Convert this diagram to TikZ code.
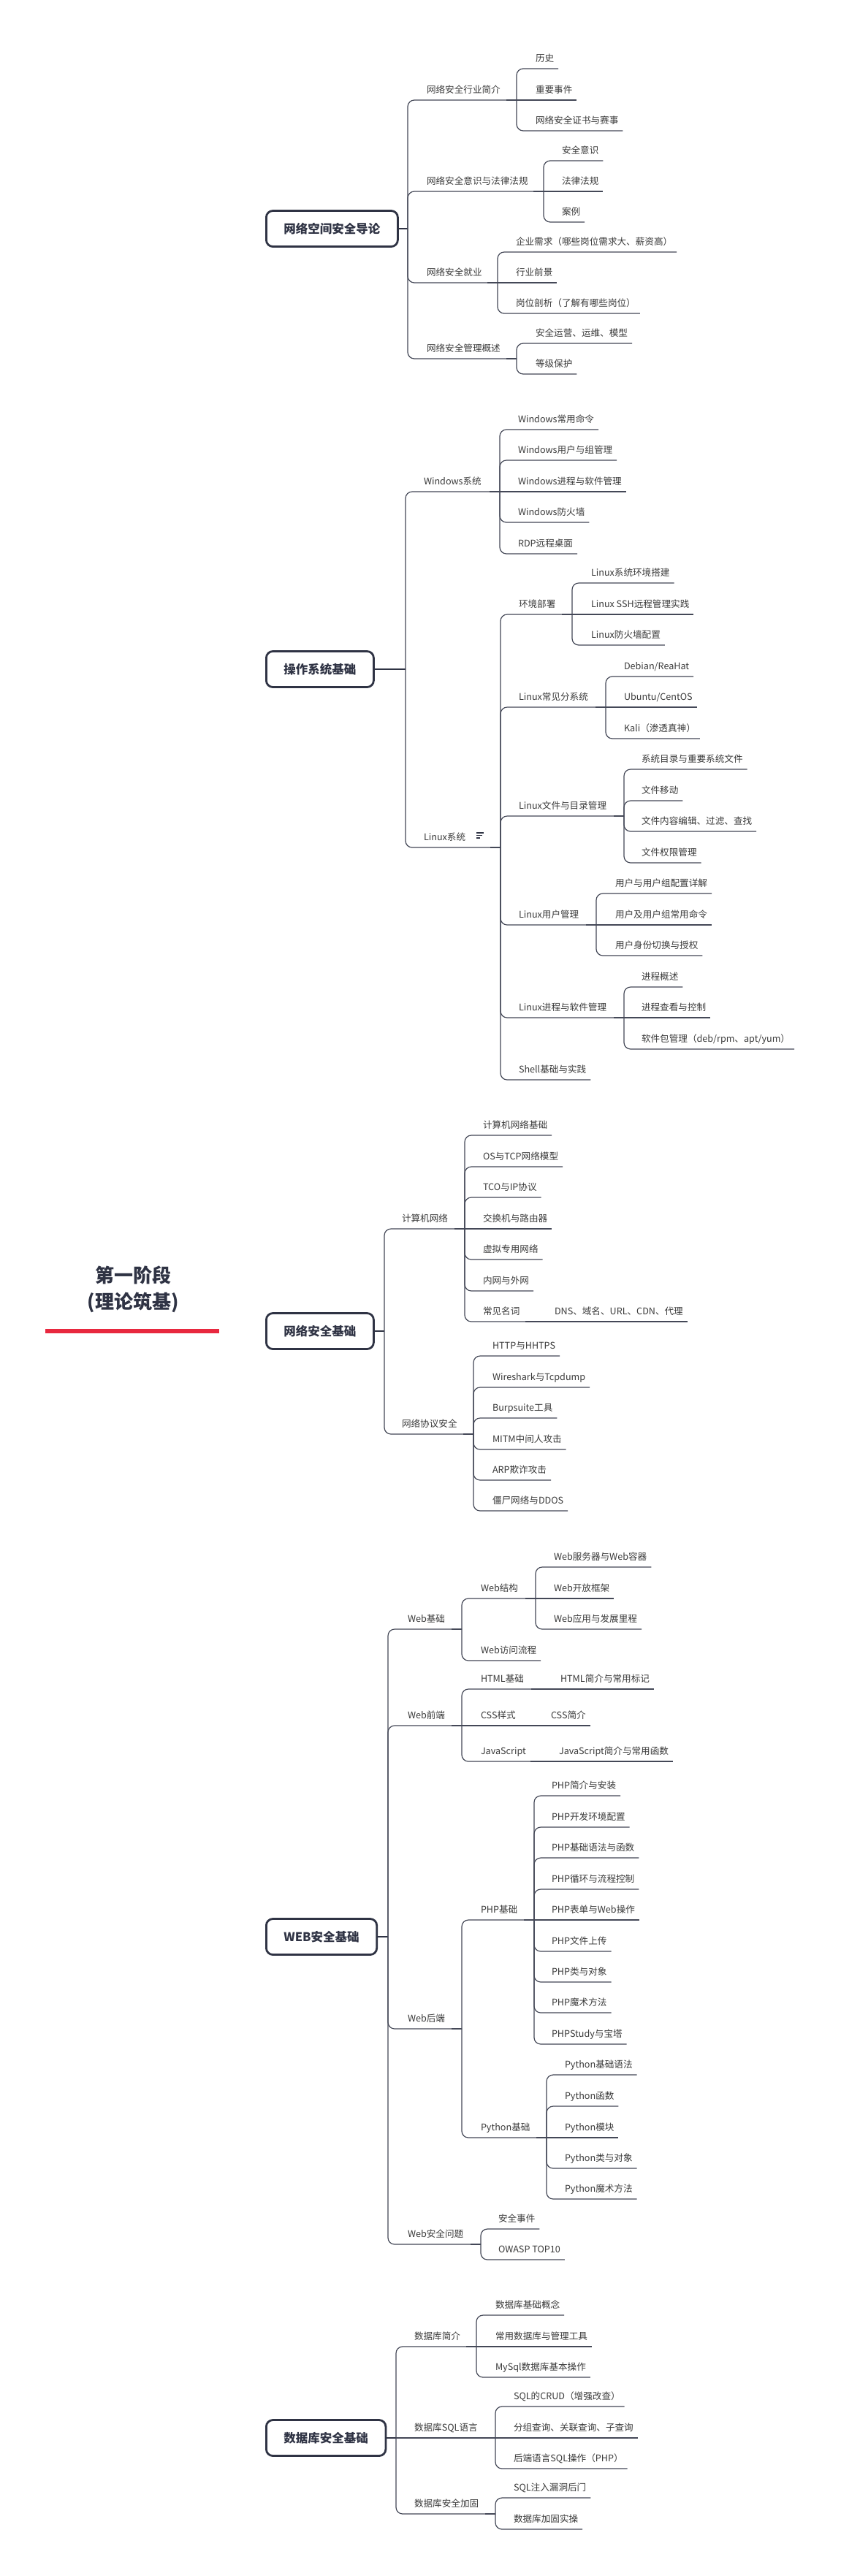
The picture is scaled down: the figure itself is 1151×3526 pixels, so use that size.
\documentclass[tikz,border=0pt]{standalone}
\usepackage{fontspec}
\setmainfont{Noto Sans CJK SC}
\usetikzlibrary{backgrounds}
\definecolor{lc}{HTML}{444857}
\definecolor{tc}{HTML}{3A3A3A}
\definecolor{hc}{HTML}{2F3344}
\definecolor{rc}{HTML}{E8283F}
\tikzset{
 lf/.style={anchor=base west, inner sep=0pt, outer sep=0pt, text=tc, font=\fontsize{12.6}{14}\selectfont},
 cn/.style={draw=lc, line width=1.2pt, rounded corners=9pt},
 cnk/.style={draw=lc, line width=2.2pt},
 hd/.style={draw=hc, line width=2.8pt, rounded corners=9pt, fill=white, minimum height=49pt, inner xsep=24pt, anchor=west, text=hc, font=\fontsize{16.5}{18}\selectfont\bfseries},
 hcn/.style={draw=hc, line width=1.6pt},
 trunk/.style={draw=hc, line width=2.4pt},
 icn/.style={draw=hc, line width=1.4pt},
}
\newcommand\mmnode[4]{\node[lf] (#1) at (#2,#3-10) {#4};}
\newcommand\mmleaf[2]{\draw[cn] (#1) |- ([shift={(6pt,-10pt)}]#2.base east);}
\newcommand\mmleafs[2]{\draw[cn] (#1) -- ([shift={(6pt,-10pt)}]#2.base east);}
\newcommand\mmbar[2]{\draw[cn] (#1) |- (#2); \draw[cnk] ([xshift=-14pt]#2) -- (#2);}
\newcommand\mmbars[2]{\draw[cn] (#1) -- (#2); \draw[cnk] ([xshift=-14pt]#2) -- (#2);}
\begin{document}
\begin{tikzpicture}[x=1pt,y=-1pt]
\fill[white] (0,0) rectangle (1151,3526);
\useasboundingbox (0,0) rectangle (1151,3526);

% root
\node[font=\fontsize{26}{36}\selectfont\bfseries, text=hc, align=center] (R) at (182,1765) {第一阶段\\(理论筑基)};
\coordinate (Rl) at (62,1822);
\coordinate (Rr) at (300,1822);
\coordinate (J) at (317,1822);

% ===== Section 1 =====
\node[hd] (S1) at (363,313) {网络空间安全导论};
\coordinate (S1b) at (558,313);
\draw[hcn] (S1.east) -- (S1b);
\mmnode{A1}{584}{137}{网络安全行业简介} \coordinate (A1b) at (707,137); \mmbar{S1b}{A1b}
\mmnode{a11}{733}{94}{历史} \mmleaf{A1b}{a11}
\mmnode{a12}{733}{137}{重要事件} \mmleafs{A1b}{a12}
\mmnode{a13}{733}{179}{网络安全证书与赛事} \mmleaf{A1b}{a13}
\mmnode{A2}{584}{262}{网络安全意识与法律法规} \coordinate (A2b) at (744,262); \mmbar{S1b}{A2b}
\mmnode{a21}{769}{220}{安全意识} \mmleaf{A2b}{a21}
\mmnode{a22}{769}{262}{法律法规} \mmleafs{A2b}{a22}
\mmnode{a23}{769}{304}{案例} \mmleaf{A2b}{a23}
\mmnode{A3}{584}{387}{网络安全就业} \coordinate (A3b) at (681,387); \mmbar{S1b}{A3b}
\mmnode{a31}{706}{345}{企业需求（哪些岗位需求大、薪资高）} \mmleaf{A3b}{a31}
\mmnode{a32}{706}{387}{行业前景} \mmleafs{A3b}{a32}
\mmnode{a33}{706}{429}{岗位剖析（了解有哪些岗位）} \mmleaf{A3b}{a33}
\mmnode{A4}{584}{491}{网络安全管理概述} \coordinate (A4b) at (707,491); \mmbar{S1b}{A4b}
\mmnode{a41}{733}{470}{安全运营、运维、模型} \mmleaf{A4b}{a41}
\mmnode{a42}{733}{512}{等级保护} \mmleaf{A4b}{a42}

% ===== Section 2 =====
\node[hd] (S2) at (363,916) {操作系统基础\hspace{28pt}};
\draw[icn] ([shift={(-40pt,4.5pt)}]S2.east) -- ++(13pt,0);
\draw[icn] ([shift={(-40pt,0.5pt)}]S2.east) -- ++(11.5pt,0);
\draw[icn] ([shift={(-40pt,-3.5pt)}]S2.east) -- ++(9pt,0);
\coordinate (S2b) at (555,916);
\draw[hcn] (S2.east) -- (S2b);
\mmnode{B1}{580}{673}{Windows系统} \coordinate (B1b) at (684,673); \mmbar{S2b}{B1b}
\mmnode{b11}{709}{588}{Windows常用命令} \mmleaf{B1b}{b11}
\mmnode{b12}{709}{630}{Windows用户与组管理} \mmleaf{B1b}{b12}
\mmnode{b13}{709}{673}{Windows进程与软件管理} \mmleafs{B1b}{b13}
\mmnode{b14}{709}{715}{Windows防火墙} \mmleaf{B1b}{b14}
\mmnode{b15}{709}{758}{RDP远程桌面} \mmleaf{B1b}{b15}
\mmnode{B2}{580}{1160}{Linux系统} \coordinate (B2b) at (685,1160); \mmbar{S2b}{B2b}
\draw[icn, line width=1.1pt] ([shift={(15pt,10pt)}]B2.base east) -- ++(10pt,0);
\draw[icn, line width=1.1pt] ([shift={(15pt,6.5pt)}]B2.base east) -- ++(8pt,0);
\draw[icn, line width=1.1pt] ([shift={(15pt,3pt)}]B2.base east) -- ++(5pt,0);
\mmnode{B21}{710}{841}{环境部署} \coordinate (B21b) at (783,841); \mmbar{B2b}{B21b}
\mmnode{b211}{809}{798}{Linux系统环境搭建} \mmleaf{B21b}{b211}
\mmnode{b212}{809}{841}{Linux SSH远程管理实践} \mmleafs{B21b}{b212}
\mmnode{b213}{809}{883}{Linux防火墙配置} \mmleaf{B21b}{b213}
\mmnode{B22}{710}{968}{Linux常见分系统} \coordinate (B22b) at (829,968); \mmbar{B2b}{B22b}
\mmnode{b221}{854}{926}{Debian/ReaHat} \mmleaf{B22b}{b221}
\mmnode{b222}{854}{968}{Ubuntu/CentOS} \mmleafs{B22b}{b222}
\mmnode{b223}{854}{1011}{Kali（渗透真神）} \mmleaf{B22b}{b223}
\mmnode{B23}{710}{1117}{Linux文件与目录管理} \coordinate (B23b) at (854,1117); \mmbar{B2b}{B23b}
\mmnode{b231}{878}{1053}{系统目录与重要系统文件} \mmleaf{B23b}{b231}
\mmnode{b232}{878}{1096}{文件移动} \mmleaf{B23b}{b232}
\mmnode{b233}{878}{1138}{文件内容编辑、过滤、查找} \mmleaf{B23b}{b233}
\mmnode{b234}{878}{1181}{文件权限管理} \mmleaf{B23b}{b234}
\mmnode{B24}{710}{1266}{Linux用户管理} \coordinate (B24b) at (816,1266); \mmbar{B2b}{B24b}
\mmnode{b241}{842}{1223}{用户与用户组配置详解} \mmleaf{B24b}{b241}
\mmnode{b242}{842}{1266}{用户及用户组常用命令} \mmleafs{B24b}{b242}
\mmnode{b243}{842}{1308}{用户身份切换与授权} \mmleaf{B24b}{b243}
\mmnode{B25}{710}{1393}{Linux进程与软件管理} \coordinate (B25b) at (854,1393); \mmbar{B2b}{B25b}
\mmnode{b251}{878}{1351}{进程概述} \mmleaf{B25b}{b251}
\mmnode{b252}{878}{1393}{进程查看与控制} \mmleafs{B25b}{b252}
\mmnode{b253}{878}{1436}{软件包管理（deb/rpm、apt/yum）} \mmleaf{B25b}{b253}
\mmnode{B26}{710}{1478}{Shell基础与实践} \mmleaf{B2b}{B26}

% ===== Section 3 =====
\node[hd] (S3) at (363,1822) {网络安全基础};
\coordinate (S3b) at (526,1822);
\draw[hcn] (S3.east) -- (S3b);
\mmnode{C1}{550}{1682}{计算机网络} \coordinate (C1b) at (636,1682); \mmbar{S3b}{C1b}
\mmnode{c11}{661}{1554}{计算机网络基础} \mmleaf{C1b}{c11}
\mmnode{c12}{661}{1597}{OS与TCP网络模型} \mmleaf{C1b}{c12}
\mmnode{c13}{661}{1639}{TCO与IP协议} \mmleaf{C1b}{c13}
\mmnode{c14}{661}{1682}{交换机与路由器} \mmleafs{C1b}{c14}
\mmnode{c15}{661}{1724}{虚拟专用网络} \mmleaf{C1b}{c15}
\mmnode{c16}{661}{1767}{内网与外网} \mmleaf{C1b}{c16}
\mmnode{C17}{661}{1809}{常见名词} \coordinate (C17b) at (733,1809); \mmbar{C1b}{C17b}
\mmnode{c171}{759}{1809}{DNS、域名、URL、CDN、代理} \mmleafs{C17b}{c171}
\mmnode{C2}{550}{1963}{网络协议安全} \coordinate (C2b) at (648,1963); \mmbar{S3b}{C2b}
\mmnode{c21}{674}{1856}{HTTP与HHTPS} \mmleaf{C2b}{c21}
\mmnode{c22}{674}{1899}{Wireshark与Tcpdump} \mmleaf{C2b}{c22}
\mmnode{c23}{674}{1941}{Burpsuite工具} \mmleaf{C2b}{c23}
\mmnode{c24}{674}{1984}{MITM中间人攻击} \mmleaf{C2b}{c24}
\mmnode{c25}{674}{2026}{ARP欺诈攻击} \mmleaf{C2b}{c25}
\mmnode{c26}{674}{2068}{僵尸网络与DDOS} \mmleaf{C2b}{c26}

% ===== Section 4 =====
\node[hd] (S4) at (363,2651) {WEB安全基础};
\coordinate (S4b) at (531,2651);
\draw[hcn] (S4.east) -- (S4b);
\mmnode{D1}{558}{2230}{Web基础} \coordinate (D1b) at (632,2230); \mmbar{S4b}{D1b}
\mmnode{D11}{658}{2188}{Web结构} \coordinate (D11b) at (733,2188); \mmbar{D1b}{D11b}
\mmnode{d111}{758}{2145}{Web服务器与Web容器} \mmleaf{D11b}{d111}
\mmnode{d112}{758}{2188}{Web开放框架} \mmleafs{D11b}{d112}
\mmnode{d113}{758}{2230}{Web应用与发展里程} \mmleaf{D11b}{d113}
\mmnode{D12}{658}{2273}{Web访问流程} \mmleaf{D1b}{D12}
\mmnode{D2}{558}{2362}{Web前端} \coordinate (D2b) at (632,2362); \mmbar{S4b}{D2b}
\mmnode{D21}{658}{2312}{HTML基础} \coordinate (D21b) at (741,2312); \mmbar{D2b}{D21b}
\mmnode{d211}{767}{2312}{HTML简介与常用标记} \mmleafs{D21b}{d211}
\mmnode{D22}{658}{2362}{CSS样式} \coordinate (D22b) at (728,2362); \mmbars{D2b}{D22b}
\mmnode{d221}{754}{2362}{CSS简介} \mmleafs{D22b}{d221}
\mmnode{D23}{658}{2411}{JavaScript} \coordinate (D23b) at (740,2411); \mmbar{D2b}{D23b}
\mmnode{d231}{765}{2411}{JavaScript简介与常用函数} \mmleafs{D23b}{d231}
\mmnode{D3}{558}{2777}{Web后端} \coordinate (D3b) at (632,2777); \mmbar{S4b}{D3b}
\mmnode{D31}{658}{2628}{PHP基础} \coordinate (D31b) at (731,2628); \mmbar{D3b}{D31b}
\mmnode{d311}{755}{2458}{PHP简介与安装} \mmleaf{D31b}{d311}
\mmnode{d312}{755}{2501}{PHP开发环境配置} \mmleaf{D31b}{d312}
\mmnode{d313}{755}{2543}{PHP基础语法与函数} \mmleaf{D31b}{d313}
\mmnode{d314}{755}{2586}{PHP循环与流程控制} \mmleaf{D31b}{d314}
\mmnode{d315}{755}{2628}{PHP表单与Web操作} \mmleafs{D31b}{d315}
\mmnode{d316}{755}{2671}{PHP文件上传} \mmleaf{D31b}{d316}
\mmnode{d317}{755}{2713}{PHP类与对象} \mmleaf{D31b}{d317}
\mmnode{d318}{755}{2755}{PHP魔术方法} \mmleaf{D31b}{d318}
\mmnode{d319}{755}{2798}{PHPStudy与宝塔} \mmleaf{D31b}{d319}
\mmnode{D32}{658}{2926}{Python基础} \coordinate (D32b) at (748,2926); \mmbar{D3b}{D32b}
\mmnode{d321}{773}{2840}{Python基础语法} \mmleaf{D32b}{d321}
\mmnode{d322}{773}{2883}{Python函数} \mmleaf{D32b}{d322}
\mmnode{d323}{773}{2926}{Python模块} \mmleafs{D32b}{d323}
\mmnode{d324}{773}{2968}{Python类与对象} \mmleaf{D32b}{d324}
\mmnode{d325}{773}{3010}{Python魔术方法} \mmleaf{D32b}{d325}
\mmnode{D4}{558}{3072}{Web安全问题} \coordinate (D4b) at (658,3072); \mmbar{S4b}{D4b}
\mmnode{d41}{682}{3051}{安全事件} \mmleaf{D4b}{d41}
\mmnode{d42}{682}{3093}{OWASP TOP10} \mmleaf{D4b}{d42}

% ===== Section 5 =====
\node[hd] (S5) at (363,3337) {数据库安全基础};
\coordinate (S5b) at (542,3337);
\draw[hcn] (S5.east) -- (S5b);
\mmnode{E1}{567}{3212}{数据库简介} \coordinate (E1b) at (652,3212); \mmbar{S5b}{E1b}
\mmnode{e11}{678}{3169}{数据库基础概念} \mmleaf{E1b}{e11}
\mmnode{e12}{678}{3212}{常用数据库与管理工具} \mmleafs{E1b}{e12}
\mmnode{e13}{678}{3254}{MySql数据库基本操作} \mmleaf{E1b}{e13}
\mmnode{E2}{567}{3337}{数据库SQL语言} \coordinate (E2b) at (678,3337); \mmbars{S5b}{E2b}
\mmnode{e21}{703}{3294}{SQL的CRUD（增强改查）} \mmleaf{E2b}{e21}
\mmnode{e22}{703}{3337}{分组查询、关联查询、子查询} \mmleafs{E2b}{e22}
\mmnode{e23}{703}{3379}{后端语言SQL操作（PHP）} \mmleaf{E2b}{e23}
\mmnode{E3}{567}{3441}{数据库安全加固} \coordinate (E3b) at (678,3441); \mmbar{S5b}{E3b}
\mmnode{e31}{703}{3419}{SQL注入漏洞后门} \mmleaf{E3b}{e31}
\mmnode{e32}{703}{3462}{数据库加固实操} \mmleaf{E3b}{e32}

% ===== trunk =====
\begin{scope}[on background layer]
\draw[trunk] (J) .. controls (317,1520) and (362,690) .. ([xshift=2pt]S1.west);
\draw[trunk] (J) .. controls (317,1641) and (362,1142) .. ([xshift=2pt]S2.west);
\draw[trunk] (J) .. controls (317,1988) and (362,2444) .. ([xshift=2pt]S4.west);
\draw[trunk] (J) .. controls (317,2125) and (362,2958) .. ([xshift=2pt]S5.west);
\draw[trunk, line width=3pt] (Rr) -- (S3.west);
\end{scope}
\draw[rc, line width=6.5pt] (Rl) -- (Rr);
\end{tikzpicture}
\end{document}
